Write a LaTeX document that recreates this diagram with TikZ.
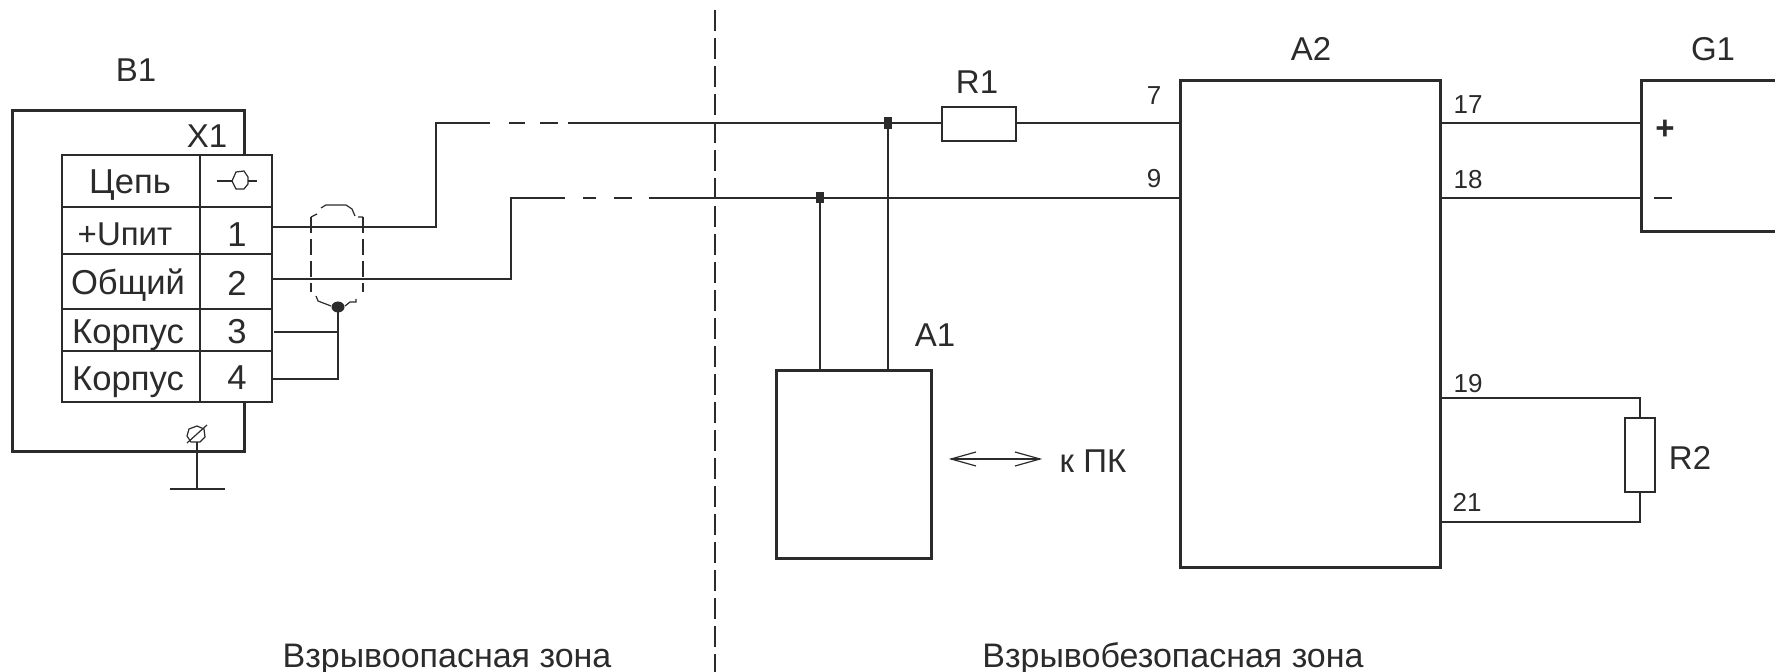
\documentclass[tikz,border=0pt]{standalone}
\usepackage{fontspec}
\setmainfont{Liberation Sans}
\usetikzlibrary{arrows.meta,shapes.geometric}
\definecolor{ink}{HTML}{2B2B2B}
\newcommand{\fs}[1]{\fontsize{#1}{#1}\selectfont}
\newcommand{\rectnode}[6]{%
  \pgfmathsetmacro{\rw}{(#5-#3)*0.5}\pgfmathsetmacro{\rh}{(#6-#4)*0.5}%
  \node[#1,minimum width=\rw pt,minimum height=\rh pt] (#2) at ({(#3+#5)/2},{(#4+#6)/2}) {};}
\tikzset{
  heavy/.style={draw=ink,line width=1.5pt,rectangle,inner sep=0pt,outer sep=0pt},
  cellbox/.style={draw=ink,line width=0.7pt,fill=white,rectangle,inner sep=0pt,outer sep=0pt},
  resbox/.style={draw=ink,line width=0.7pt,fill=white,rectangle,inner sep=0pt,outer sep=0pt},
  wire/.style={draw=ink,line width=0.75pt},
  thin wire/.style={draw=ink,line width=0.6pt},
  lab/.style={text=ink,inner sep=0pt,font=\fs{16.5}},
  zone/.style={text=ink,inner sep=0pt,font=\fs{17}},
  pin/.style={text=ink,inner sep=0pt,font=\fs{13}},
  cell/.style={text=ink,inner sep=0pt,font=\fs{17.3}},
  dot/.style={fill=ink,draw=none,rectangle,inner sep=0pt,outer sep=0pt},
}
\begin{document}
\begin{tikzpicture}[x=0.5pt,y=-0.5pt,line join=miter]
\useasboundingbox (0,0) rectangle (1775,672);
% device boxes
\rectnode{heavy}{B}{12}{111}{244}{452}
\rectnode{heavy}{Aone}{776}{371}{931}{559}
\rectnode{heavy}{Atwo}{1180}{81}{1440}{567}
\draw[draw=ink,line width=1.5pt] (1800,81) -- (1641,81) -- (1641,232) -- (1800,232);
% table
\rectnode{cellbox}{c0a}{62}{155}{200}{207}
\rectnode{cellbox}{c0b}{200}{155}{272}{207}
\rectnode{cellbox}{c1a}{62}{207}{200}{254}
\rectnode{cellbox}{c1b}{200}{207}{272}{254}
\rectnode{cellbox}{c2a}{62}{254}{200}{309}
\rectnode{cellbox}{c2b}{200}{254}{272}{309}
\rectnode{cellbox}{c3a}{62}{309}{200}{351}
\rectnode{cellbox}{c3b}{200}{309}{272}{351}
\rectnode{cellbox}{c4a}{62}{351}{200}{402}
\rectnode{cellbox}{c4b}{200}{351}{272}{402}
\node[cell] (tc) at (130,185) {Цепь};
\node[cell,font=\fs{16.5}] (t1) at (125,234) {+Uпит};
\node[cell] (t2) at (128,285) {Общий};
\node[cell] (t3) at (128,335) {Корпус};
\node[cell] (t4) at (128,382) {Корпус};
\node[cell] (n1) at (237,235) {1};
\node[cell] (n2) at (237,283) {2};
\node[cell] (n3) at (237,332) {3};
\node[cell] (n4) at (237,378) {4};
% connector symbol
\draw[thin wire] (217,181) -- (232,181) (248,181) -- (257,181);
\draw[thin wire] (232,181) -- (236,172) -- (244,171) -- (248,177) -- (248,184) -- (244,189) -- (236,189) -- cycle;
% labels
\node[lab] (lB) at (136,70) {В1};
\node[lab] (lX) at (207,136) {Х1};
\node[lab] (lR1) at (977,82) {R1};
\node[lab] (lA1) at (935,335) {А1};
\node[lab] (lA2) at (1311,49) {А2};
\node[lab] (lG) at (1713,49) {G1};
\node[lab] (lR2) at (1690,458) {R2};
\node[lab] (lpc) at (1093,461) {к ПК};
\node[zone] (lz1) at (447,659) {Взрывоопасная зона};
\node[zone] (lz2) at (1173,659) {Взрывобезопасная зона};
\node[pin] (p7) at (1154,96) {7};
\node[pin] (p9) at (1154,179) {9};
\node[pin] (p17) at (1468,105) {17};
\node[pin] (p18) at (1468,180) {18};
\node[pin] (p19) at (1468,384) {19};
\node[pin] (p21) at (1467,502) {21};
\node[text=ink,inner sep=0pt,font=\fs{16.5}\bfseries] (plus) at (1665,130) {+};
\draw[thin wire] (1654,198) -- (1672,198);
% resistors
\rectnode{resbox}{Rone}{942}{107}{1016}{141}
\rectnode{resbox}{Rtwo}{1625}{418}{1655}{492}
% divider
\draw[thin wire,dash pattern=on 10.5pt off 3.5pt] (715,10) -- (715,672);
% named wire points
\coordinate (w1a) at (272,227);
\coordinate (w2a) at (272,279);
\coordinate (w3a) at (274,332);
\coordinate (w4a) at (272,379);
\coordinate (k) at (338,307);
\coordinate (j1) at (888,123);
\coordinate (j2) at (820,198);
% main wires
\draw[wire] (w1a) -- (436,227) -- (436,123) -- (490,123);
\draw[wire] (509,123) -- (525,123) (540,123) -- (558,123);
\draw[wire] (568,123) -- (j1) -- (Rone.west |- j1);
\draw[wire] (Rone.east |- j1) -- (Atwo.west |- j1);
\draw[wire] (w2a) -- (511,279) -- (511,198) -- (565,198);
\draw[wire] (583,198) -- (596,198) (614,198) -- (632,198);
\draw[wire] (649,198) -- (j2) -- (Atwo.west |- j2);
\draw[thin wire] (j1) -- (j1 |- Aone.north);
\draw[thin wire] (j2) -- (j2 |- Aone.north);
\node[dot,minimum width=4pt,minimum height=6pt] (d1) at (j1) {};
\node[dot,minimum width=4pt,minimum height=5.5pt] (d2) at (j2) {};
\draw[wire] (w3a) -- (k |- w3a);
\draw[wire] (w4a) -- (k |- w4a) -- (k);
% shield
\draw[thin wire,dash pattern=on 8pt off 3pt] (311,217) -- (311,292) (363,217) -- (363,292);
\draw[thin wire] (311,217) -- (317,214) (321,208) -- (326,205) -- (346,205) -- (352,209) -- (355,216) (358,217) -- (363,217);
\draw[thin wire] (316,296) -- (318,301) -- (331,306) (345,306) -- (350,302) -- (356,302) -- (356,299);
\node[dot,ellipse,minimum width=6.5pt,minimum height=5.5pt] (kdot) at (k) {};
% ground
\draw[thin wire] (197,426) -- (204,429) -- (205,437) -- (200,442) -- (191,442) -- (187,436) -- (189,429) -- cycle;
\draw[thin wire] (187,443) -- (207,425);
\coordinate (g1) at (197,442);
\coordinate (g2) at (197,489);
\draw[thin wire] (g1) -- (g2);
\draw[thin wire] (170,489) -- (225,489);
% G1 wires
\coordinate (gp) at (1641,123);
\coordinate (gm) at (1641,198);
\draw[wire] (1442,123) -- (gp);
\draw[wire] (1442,198) -- (gm);
% R2 wires
\coordinate (r2t) at (1640,398);
\coordinate (r2b) at (1640,522);
\draw[wire] (1442,398) -- (r2t) -- (Rtwo.north);
\draw[wire] (Rtwo.south) -- (r2b) -- (1442,522);
% arrow
\coordinate (a1) at (951,459);
\coordinate (a2) at (1040,459);
\draw[thin wire] (a1) -- (a2);
\draw[thin wire] (976,452) -- (a1) -- (976,466);
\draw[thin wire] (1015,452) -- (a2) -- (1015,466);
\end{tikzpicture}
\end{document}
